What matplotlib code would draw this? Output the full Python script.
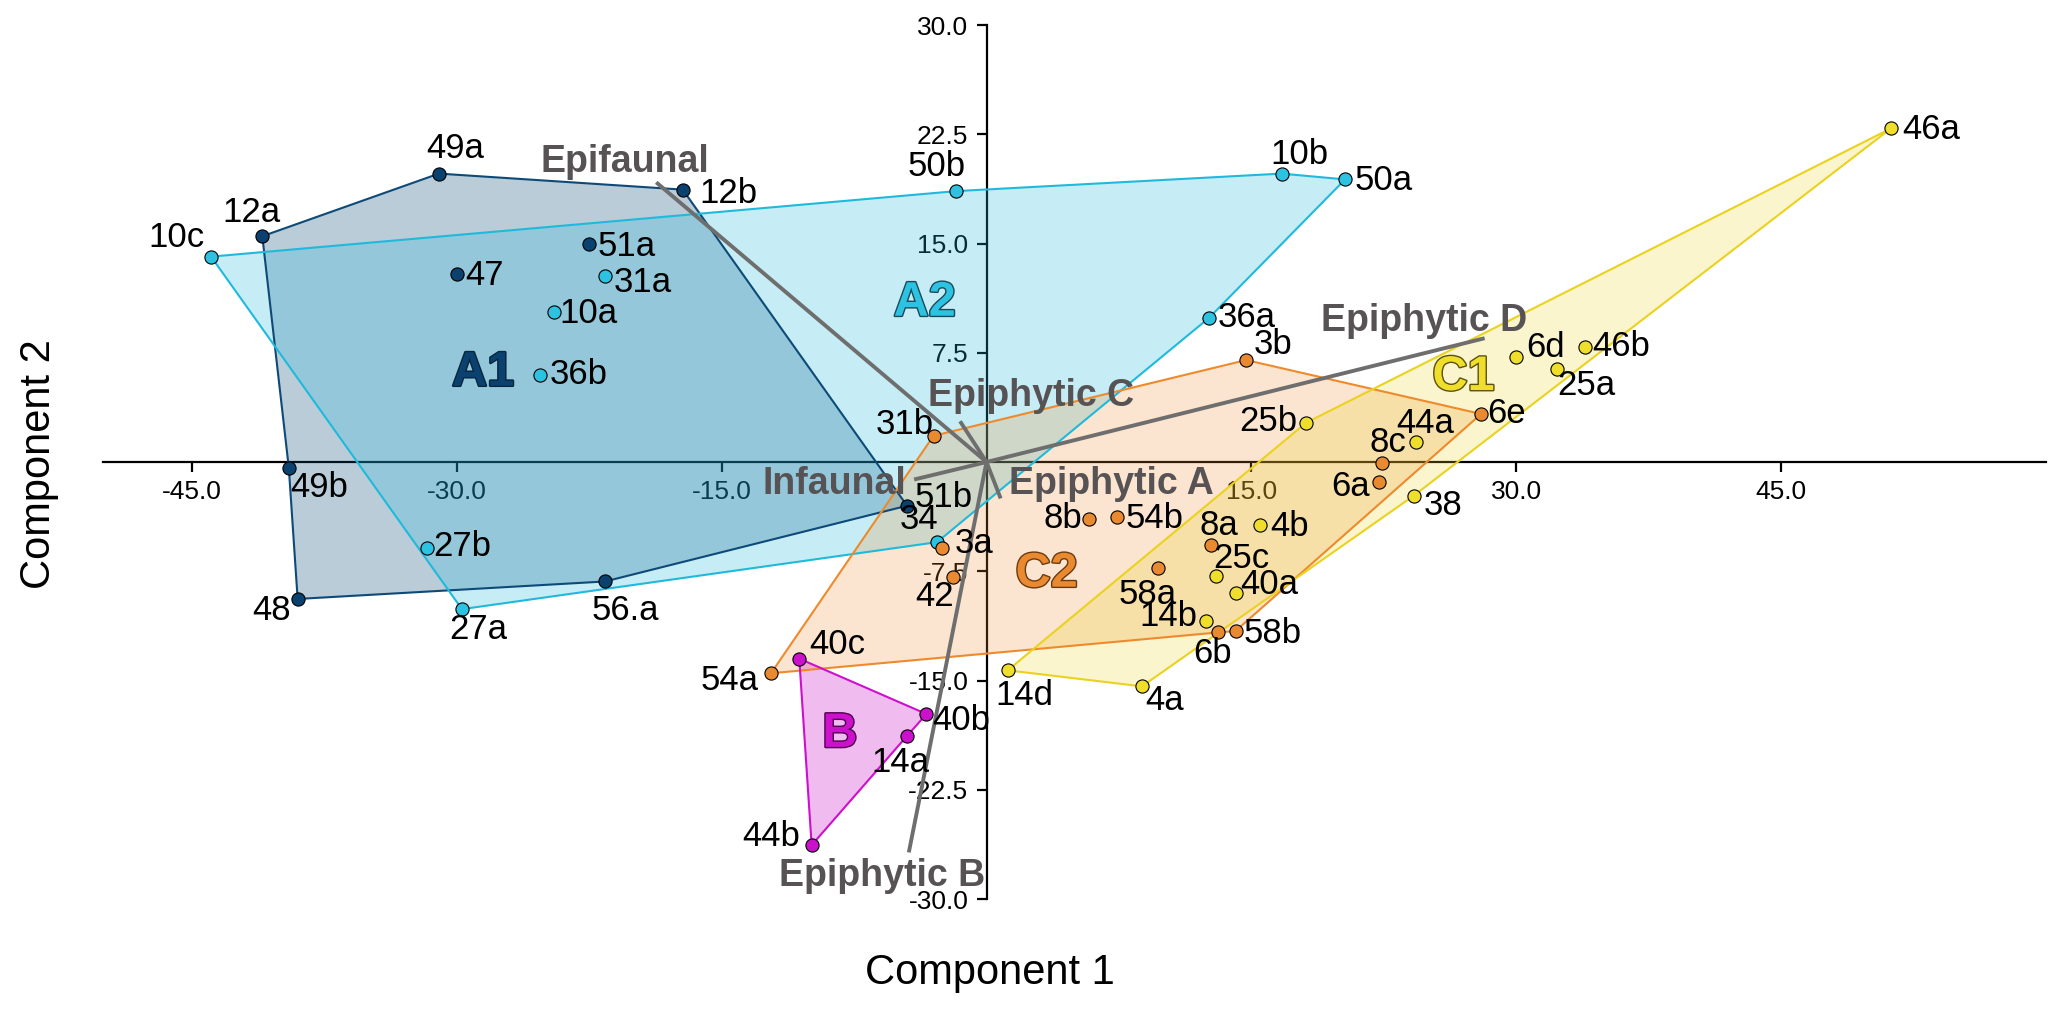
import numpy as np
import matplotlib.pyplot as plt
import matplotlib.patheffects as pe
from matplotlib.patches import Polygon

plt.rcParams['font.family'] = ['Liberation Sans', 'DejaVu Sans']

# group A1
a1_names = ['49a', '12a', '12b', '51a', '47', '49b', '48', '56.a', '51b']
a1_x = [-31.0, -41.0, -17.2, -22.5, -30.0, -39.5, -39.0, -21.6, -4.5]
a1_y = [19.8, 15.5, 18.7, 15.0, 12.9, -0.4, -9.4, -8.2, -3.0]
a1_hull = ['12a', '49a', '12b', '51b', '56.a', '48', '49b']

# group A2
a2_names = ['10c', '50b', '10b', '50a', '31a', '10a', '36b', '36a', '27b', '27a', '34']
a2_x = [-43.9, -1.7, 16.7, 20.3, -21.6, -24.5, -25.3, 12.6, -31.7, -29.7, -2.8]
a2_y = [14.1, 18.6, 19.8, 19.4, 12.8, 10.3, 6.0, 9.9, -5.9, -10.1, -5.5]
a2_hull = ['10c', '50b', '10b', '50a', '36a', '34', '27a']

# group B
b_names = ['40c', '40b', '14a', '44b']
b_x = [-10.6, -3.4, -4.5, -9.9]
b_y = [-13.5, -17.3, -18.8, -26.3]
b_hull = ['40c', '40b', '14a', '44b']

# group C2
c2_names = ['3b', '31b', '6e', '8c', '6a', '8b', '54b', '8a', '58a', '3a', '42', '6b', '58b', '54a']
c2_x = [14.7, -3.0, 28.0, 22.4, 22.2, 5.8, 7.4, 12.7, 9.7, -2.5, -1.9, 13.1, 14.1, -12.2]
c2_y = [7.0, 1.8, 3.3, -0.1, -1.4, -3.9, -3.8, -5.7, -7.3, -5.9, -7.9, -11.7, -11.6, -14.5]
c2_hull = ['31b', '3b', '6e', '58b', '6b', '54a']

# group C1
c1_names = ['46a', '6d', '46b', '25a', '25b', '44a', '38', '4b', '25c', '40a', '14b', '14d', '4a']
c1_x = [51.2, 30.0, 33.9, 32.3, 18.1, 24.3, 24.2, 15.5, 13.0, 14.1, 12.4, 1.2, 8.8]
c1_y = [22.9, 7.2, 7.9, 6.4, 2.7, 1.4, -2.3, -4.3, -7.8, -9.0, -10.9, -14.3, -15.4]
c1_hull = ['14d', '25b', '46a', '38', '4a']

# loading vectors
vec_names = ['Epifaunal', 'Infaunal', 'Epiphytic A', 'Epiphytic B', 'Epiphytic C', 'Epiphytic D']
vec_x = [-18.7, -4.1, 0.8, -4.4, -1.5, 28.2]
vec_y = [19.2, -1.2, -2.5, -26.8, 2.8, 8.5]

x_ticks = [-45.0, -30.0, -15.0, 15.0, 30.0, 45.0]
y_ticks = [-30.0, -22.5, -15.0, -7.5, 7.5, 15.0, 22.5, 30.0]

# label offsets (points) for each sample label
lab_off = {
    '49a': (12, 18), '12a': (-8, 17), '12b': (33, -3), '51a': (27, -2), '47': (20, -1),
    '49b': (22, -14), '48': (-19, -8), '56.a': (15, -21), '51b': (26, 6),
    '10c': (-25, 14), '50b': (-14, 18), '10b': (13, 14), '50a': (28, -1), '31a': (27, -5),
    '10a': (25, -1), '36b': (28, 0), '36a': (27, 0), '27b': (26, 1), '27a': (12, -15),
    '34': (-13, 16),
    '40c': (27, 10), '40b': (25, -5), '14a': (-5, -19), '44b': (-29, 6),
    '3b': (19, 11), '31b': (-21, 8), '6e': (18, 0), '8c': (4, 15), '6a': (-20, -3),
    '8b': (-19, 0), '54b': (27, -1), '8a': (6, 14), '58a': (-7, -19), '3a': (23, 3),
    '42': (-13, -14), '6b': (-4, -15), '58b': (27, -2), '54a': (-30, -5),
    '46a': (29, -1), '6d': (21, 7), '46b': (26, 0), '25a': (21, -12), '25b': (-27, 1),
    '44a': (7, 13), '38': (21, -7), '4b': (21, -1), '25c': (18, 12), '40a': (24, 6),
    '14b': (-27, 3), '14d': (12, -18), '4a': (16, -10),
}
vec_lab = {
    'Epifaunal': (-20.5, 20.6), 'Infaunal': (-8.6, -1.5), 'Epiphytic A': (7.1, -1.5),
    'Epiphytic B': (-5.9, -28.4), 'Epiphytic C': (2.5, 4.5), 'Epiphytic D': (24.8, 9.7),
}

groups = [
    # name, names, x, y, hull, point colour, edge colour, fill alpha, label pos
    ('A1', a1_names, a1_x, a1_y, a1_hull, '#0b416e', '#0d4a78', 0.28, (-28.5, 6.1)),
    ('A2', a2_names, a2_x, a2_y, a2_hull, '#2cc3e2', '#1fbadb', 0.25, (-3.5, 10.9)),
    ('C2', c2_names, c2_x, c2_y, c2_hull, '#ea8a30', '#ef8a2c', 0.22, (3.4, -7.7)),
    ('C1', c1_names, c1_x, c1_y, c1_hull, '#f0df2a', '#ead21e', 0.22, (27.0, 5.8)),
    ('B', b_names, b_x, b_y, b_hull, '#cc10cc', '#cc10cc', 0.28, (-8.3, -18.7)),
]
label_edge = {'A1': '#062640', 'A2': '#1a4a5a', 'C2': '#6a3a10', 'C1': '#5a5010', 'B': '#500050'}

fig = plt.figure(figsize=(20.67, 10.13), dpi=100)
ax = fig.add_axes([0.050, 0.1125, 0.940, 0.8628])
ax.set_xlim(-50, 60)
ax.set_ylim(-30, 30)

for g, names, xs, ys, hull, pc, ec, alpha, lpos in groups:
    idx = [names.index(n) for n in hull]
    verts = np.column_stack([np.array(xs)[idx], np.array(ys)[idx]])
    ax.add_patch(Polygon(verts, closed=True, facecolor=ec, alpha=alpha, edgecolor='none', zorder=1))
    ax.add_patch(Polygon(verts, closed=True, facecolor='none', edgecolor=ec, lw=1.5, zorder=2))

# loading vectors
for n, vx, vy in zip(vec_names, vec_x, vec_y):
    ax.plot([0, vx], [0, vy], color='#6e6e6e', lw=2.8, zorder=3, solid_capstyle='butt')
    lx, ly = vec_lab[n]
    ax.text(lx, ly, n, fontsize=27, fontweight='bold', color='#575253',
            ha='center', va='center', zorder=4)

for g, names, xs, ys, hull, pc, ec, alpha, lpos in groups:
    ax.scatter(xs, ys, s=90, color=pc, edgecolor='black', linewidth=0.8, zorder=5)
    for n, x, y in zip(names, xs, ys):
        ax.annotate(n, (x, y), xytext=lab_off[n], textcoords='offset points',
                    fontsize=25, ha='center', va='center', zorder=6)
    t = ax.text(lpos[0], lpos[1], g, fontsize=35, fontweight='bold', color=pc,
                ha='center', va='center', zorder=4)
    t.set_path_effects([pe.withStroke(linewidth=2.0, foreground=label_edge[g])])

# centred axes
ax.spines['left'].set_position(('data', 0))
ax.spines['bottom'].set_position(('data', 0))
ax.spines['right'].set_visible(False)
ax.spines['top'].set_visible(False)
for s in ['left', 'bottom']:
    ax.spines[s].set_linewidth(1.6)
    ax.spines[s].set_zorder(0.5)
ax.set_axisbelow(True)
ax.set_xticks(x_ticks)
ax.set_yticks(y_ticks)
ax.set_xticklabels(['%.1f' % v for v in x_ticks])
ax.set_yticklabels(['%.1f' % v for v in y_ticks])
ax.tick_params(direction='out', length=7, width=1.6, labelsize=19, pad=6)
for lab in ax.get_xticklabels() + ax.get_yticklabels():
    lab.set_family(['Liberation Sans Narrow', 'Liberation Sans'])

fig.text(0.479, 0.039, 'Component 1', fontsize=30, ha='center', va='center')
fig.text(0.019, 0.542, 'Component 2', fontsize=30, ha='center', va='center', rotation=90)

fig.savefig('out.png', dpi=100)
